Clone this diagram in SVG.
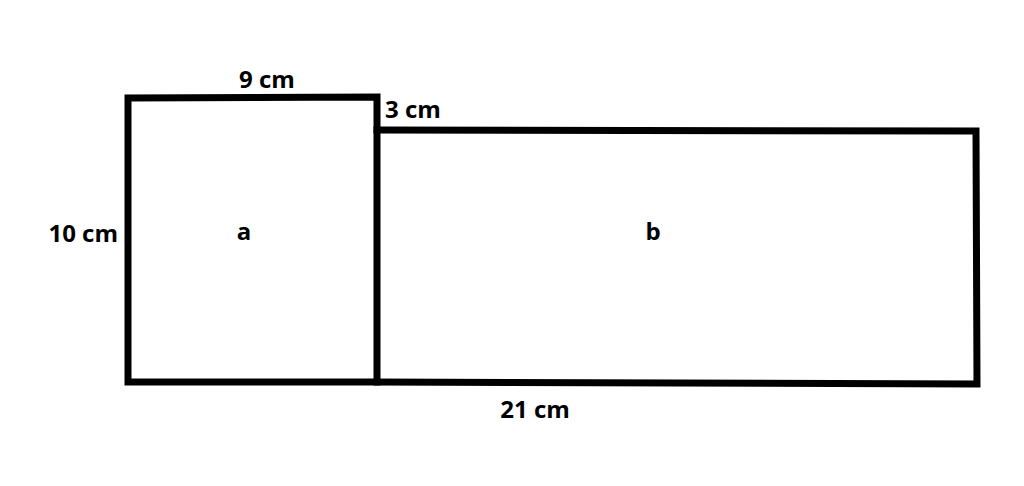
<svg xmlns="http://www.w3.org/2000/svg" width="1024" height="486" viewBox="0 0 1024 486">
<style>
.s{fill:none;stroke:#000;stroke-width:7;stroke-linecap:square;stroke-linejoin:miter}
.t{font-family:"Open Sans","DejaVu Sans",sans-serif;font-weight:bold;font-size:24px;fill:#000}
</style>
<rect width="1024" height="486" fill="#fff"/>
<g id="connectors">
</g>
<g id="rect-a">
<path class="s" d="M128,382 L128,98 L377,97 L377,382 Z"/>
<text class="t" x="244" y="240" text-anchor="middle">a</text>
</g>
<g id="rect-b">
<path class="s" d="M377,130 L976,131 L977,384 L377,382"/>
<text class="t" x="653" y="240" text-anchor="middle">b</text>
</g>
<g id="labels">
<text class="t" x="267" y="88" text-anchor="middle">9 cm</text>
<text class="t" x="385" y="118">3 cm</text>
<text class="t" x="118" y="242" text-anchor="end">10 cm</text>
<text class="t" x="535" y="418" text-anchor="middle">21 cm</text>
</g>
</svg>
